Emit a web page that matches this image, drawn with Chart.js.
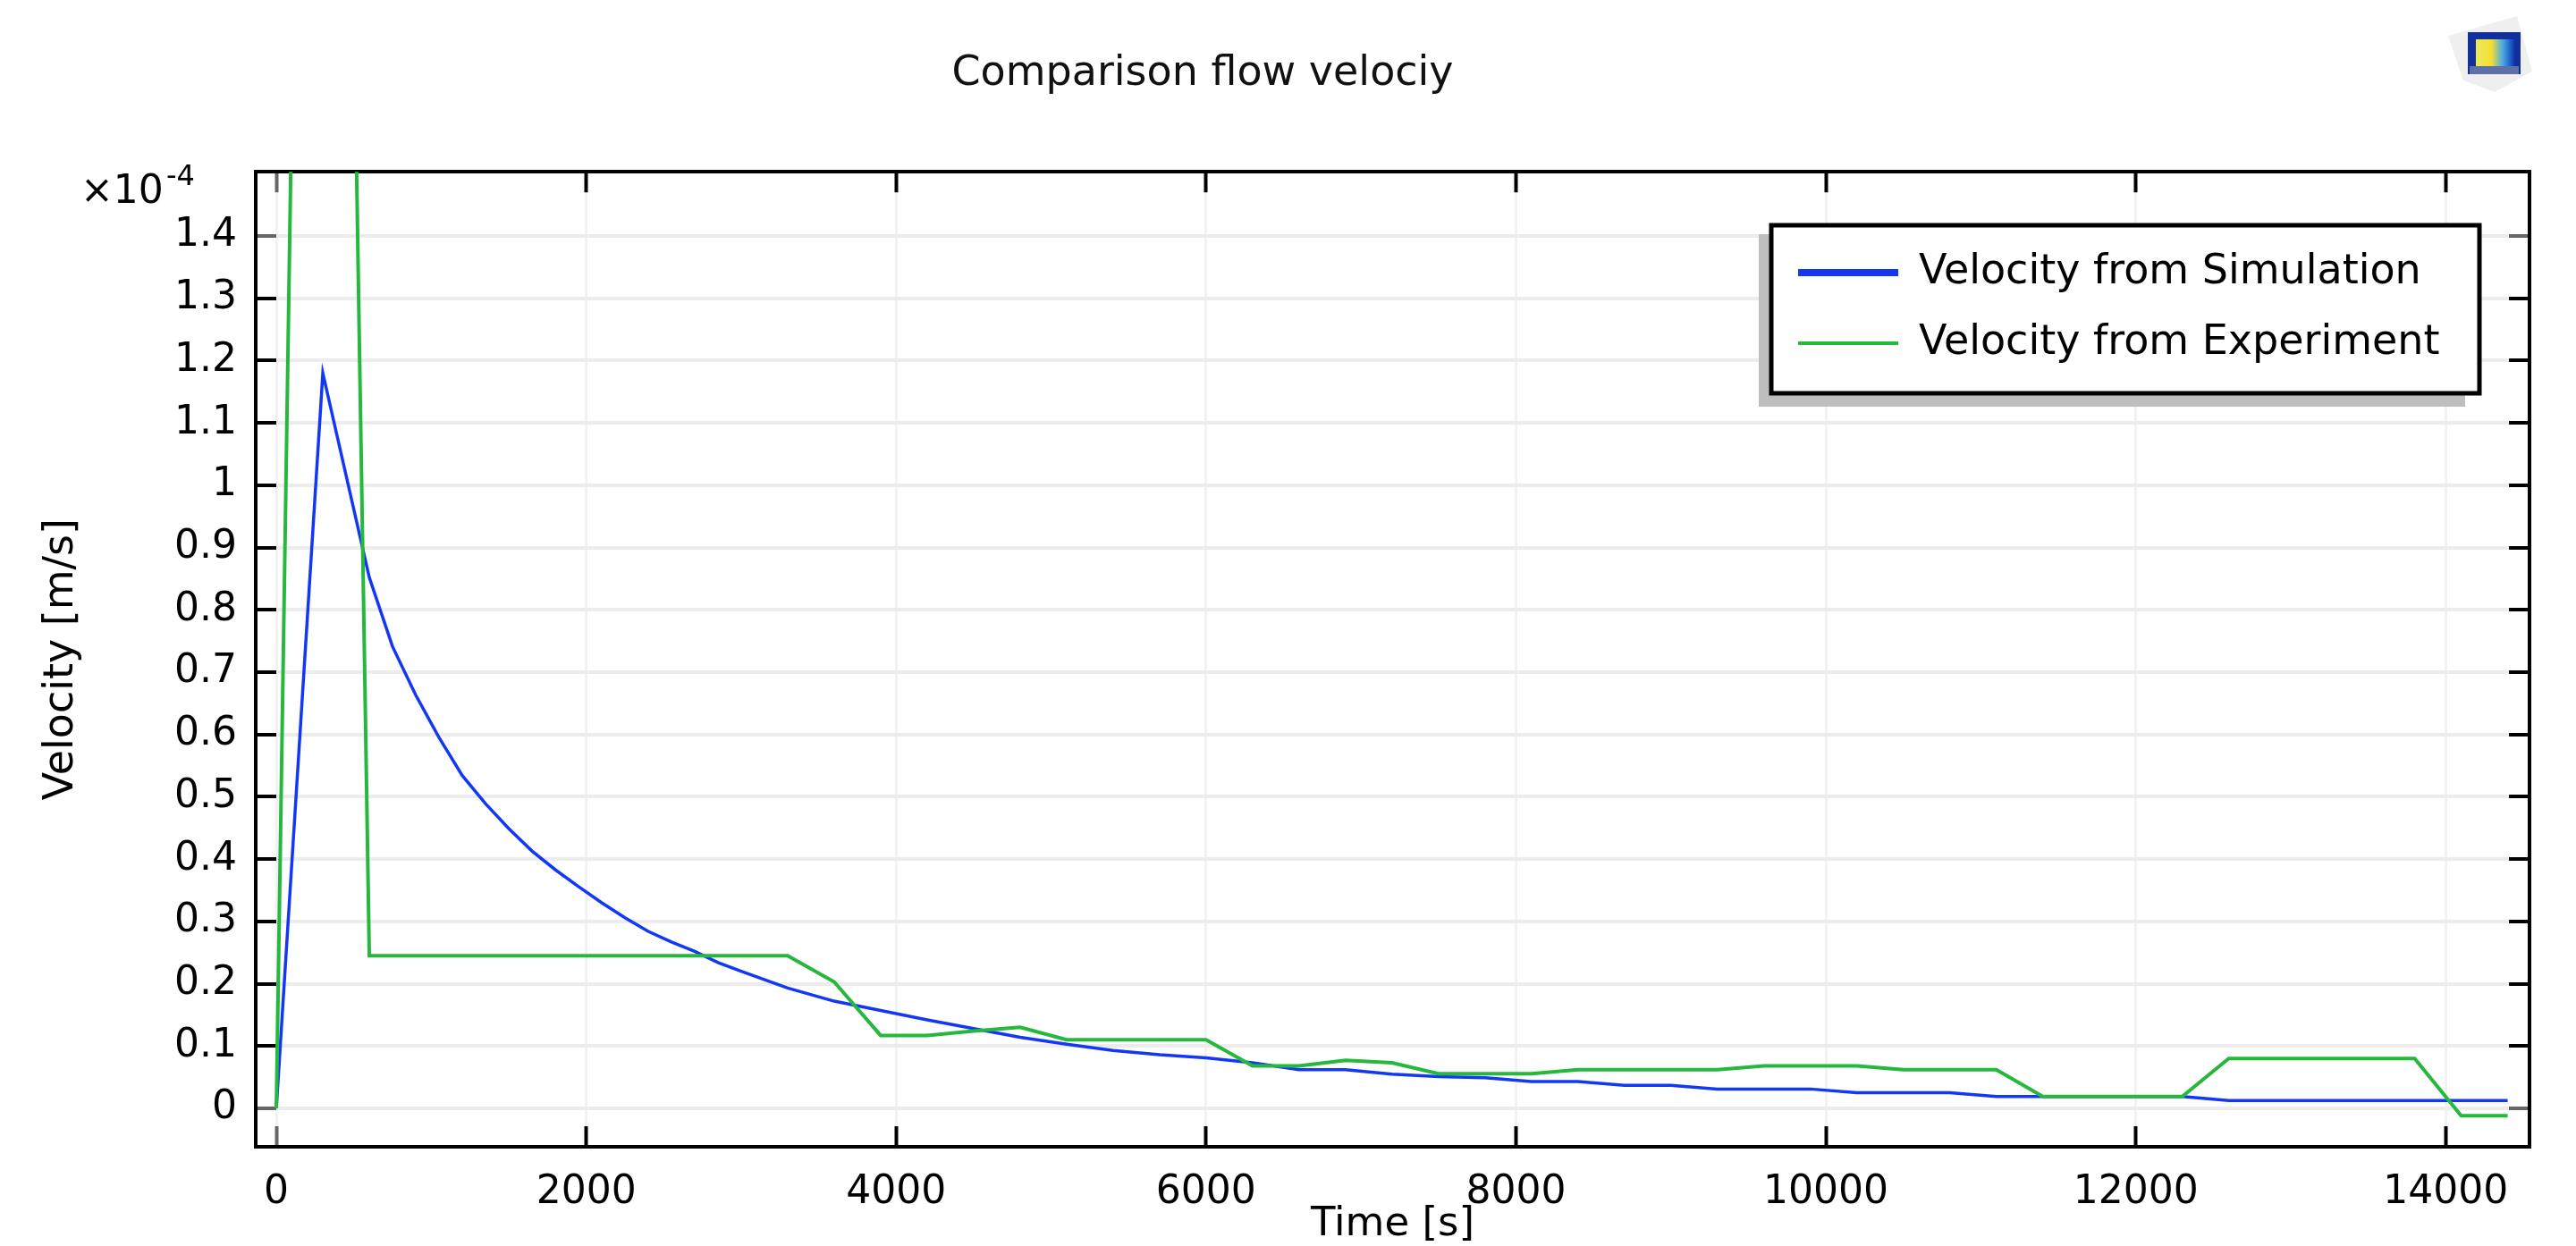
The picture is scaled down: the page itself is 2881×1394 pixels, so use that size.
<!DOCTYPE html>
<html>
<head>
<meta charset="utf-8">
<title>Comparison flow velociy</title>
<script src="https://cdn.jsdelivr.net/npm/chart.js@4"></script>
<style>
    html, body { margin: 0; background: #fff; }
    canvas { display: block; }
</style>
</head>
<body>
<canvas id="velocityChart" width="2881" height="1394"></canvas>
<script>
// velocities are in units of 1e-4 m/s, same as the axis
const simTime = [0, 300, 600, 750, 900, 1050, 1200, 1350, 1500, 1650, 1800, 1950, 2100, 2250, 2400, 2550, 2700, 2850, 3000,
    3300, 3600, 3900, 4200, 4500, 4800, 5100, 5400, 5700, 6000, 6300, 6600, 6900, 7200, 7500, 7800, 8100, 8400, 8700, 9000, 9300, 9600, 9900,
    10200, 10500, 10800, 11100, 11400, 11700, 12000, 12300, 12600, 12900, 13200, 13500, 13800, 14100, 14400];
const simVelocity = [0, 1.18, 0.852, 0.741, 0.663, 0.595, 0.534, 0.489, 0.449, 0.413, 0.383, 0.356, 0.33, 0.306, 0.284, 0.267, 0.252, 0.234, 0.22,
    0.193, 0.172, 0.157, 0.142, 0.128, 0.114, 0.103, 0.093, 0.086, 0.081, 0.073, 0.062, 0.062, 0.055, 0.051, 0.049, 0.043, 0.043, 0.037, 0.037, 0.031, 0.031, 0.031,
    0.025, 0.025, 0.025, 0.019, 0.019, 0.019, 0.019, 0.019, 0.0124, 0.0124, 0.0124, 0.0124, 0.0124, 0.0124, 0.0124];

const expTime = [0, 300, 600, 3300, 3600, 3900, 4200, 4500, 4800, 5100, 6000, 6300, 6600, 6900, 7200, 7500, 8100, 8400,
    9300, 9600, 10200, 10500, 11100, 11400, 12300, 12600, 13800, 14100, 14400];
const expVelocity = [0, 4.85, 0.245, 0.245, 0.203, 0.117, 0.117, 0.124, 0.13, 0.11, 0.11, 0.068, 0.068, 0.077, 0.073, 0.0555, 0.0555, 0.062,
    0.062, 0.068, 0.068, 0.062, 0.062, 0.019, 0.019, 0.08, 0.08, -0.012, -0.012];

const xTicks = [0, 2000, 4000, 6000, 8000, 10000, 12000, 14000];
const yTicks = [0, 0.1, 0.2, 0.3, 0.4, 0.5, 0.6, 0.7, 0.8, 0.9, 1, 1.1, 1.2, 1.3, 1.4];

const xMin = -133, xMax = 14541;
const yMin = -0.0617, yMax = 1.503;

const BLUE = "#1238f5";
const GREEN = "#26b83c";
const FONT = "'DejaVu Sans'";

const toPoints = (xs, ys) => xs.map((x, i) => ({ x: x, y: ys[i] }));

// axis line with inward ticks, the top and right copies have no labels
function axisBase(ticksList, gridColor, gridWidth, endValues) {
    return {
        type: "linear",
        afterBuildTicks: scale => { scale.ticks = ticksList.map(v => ({ value: v })); },
        border: { color: "#000", width: 4 },
        grid: {
            color: gridColor,
            lineWidth: gridWidth,
            tickLength: -23,
            tickWidth: 4,
            // the first and last ticks look washed out in the original
            tickColor: ctx => endValues.includes(ctx.tick && ctx.tick.value) ? "#666" : "#000"
        }
    };
}

function withFit(base, extra, fit) {
    return Object.assign(base, extra, { afterFit: fit });
}

// frame behind the legend, gets drawn together with it
function drawLegendFrame(ctx) {
    ctx.save();
    ctx.fillStyle = "#bebebe";
    ctx.fillRect(1967, 262, 790, 193);
    ctx.fillStyle = "#fff";
    ctx.fillRect(1981, 252, 792, 188);
    ctx.strokeStyle = "#000";
    ctx.lineWidth = 5;
    ctx.strokeRect(1981, 252, 792, 188);
    ctx.restore();
}

function drawLogo(ctx) {
    ctx.save();
    ctx.fillStyle = "#efefef";
    ctx.beginPath();
    ctx.moveTo(2738, 40);
    ctx.lineTo(2815, 18);
    ctx.lineTo(2832, 80);
    ctx.lineTo(2790, 103);
    ctx.lineTo(2755, 90);
    ctx.closePath();
    ctx.fill();
    ctx.fillStyle = "#12309a";
    ctx.fillRect(2760, 36, 59, 47);
    ctx.fillStyle = "#5f6fa8";
    ctx.fillRect(2762, 74, 55, 9);
    const g = ctx.createLinearGradient(2769, 0, 2812, 0);
    g.addColorStop(0, "#e8e860");
    g.addColorStop(0.4, "#f5e030");
    g.addColorStop(0.7, "#4aa8e8");
    g.addColorStop(1, "#0a3ab0");
    ctx.fillStyle = g;
    ctx.fillRect(2769, 44, 43, 30);
    ctx.restore();
}

const layoutFix = {
    id: "layoutFix",
    afterLayout(chart) {
        // the title is not centred on the canvas
        chart.titleBlock.left = 0;
        chart.titleBlock.right = 2690;

        const lg = chart.legend;
        lg.left = 1978;
        lg.right = 2773;
        lg.top = 249;
        lg.bottom = 700;
        if (!lg.framed) {
            const draw = lg.draw;
            lg.draw = function () {
                drawLegendFrame(chart.ctx);
                draw.call(lg);
            };
            lg.framed = true;
        }
    },
    afterDraw(chart) {
        const ctx = chart.ctx;
        ctx.save();
        ctx.fillStyle = "#000";
        ctx.textBaseline = "alphabetic";
        ctx.textAlign = "left";
        ctx.font = "44px " + FONT;
        ctx.fillText("×10", 90, 227);
        ctx.font = "32px " + FONT;
        ctx.fillText("-4", 186, 207);
        ctx.restore();
        drawLogo(ctx);
    }
};

new Chart(document.getElementById("velocityChart").getContext("2d"), {
    type: "line",
    data: {
        datasets: [
            {
                label: "Velocity from Simulation",
                data: toPoints(simTime, simVelocity),
                borderColor: BLUE,
                backgroundColor: BLUE,
                borderWidth: 3.5,
                pointRadius: 0,
                tension: 0,
                order: 2
            },
            {
                label: "Velocity from Experiment",
                data: toPoints(expTime, expVelocity),
                borderColor: GREEN,
                backgroundColor: GREEN,
                borderWidth: 4,
                pointRadius: 0,
                tension: 0,
                order: 1
            }
        ]
    },
    plugins: [layoutFix],
    options: {
        responsive: false,
        animation: false,
        layout: { padding: { left: 0, right: 52, top: 0, bottom: 0 } },
        scales: {
            x: withFit(axisBase(xTicks, "#f2f2f2", 3, [0]), {
                position: "bottom",
                min: xMin,
                max: xMax,
                ticks: {
                    color: "#000",
                    font: { family: FONT, size: 44 },
                    padding: 48,
                    maxRotation: 0,
                    autoSkip: false,
                    callback: v => String(v)
                },
                title: {
                    display: true,
                    text: "Time [s]",
                    color: "#000",
                    font: { family: FONT, size: 45 },
                    padding: { top: 0, bottom: -3 }
                }
            }, s => { s.height = 111; }),
            y: withFit(axisBase(yTicks, "#ececec", 4, [0, 1.4]), {
                position: "left",
                min: yMin,
                max: yMax,
                ticks: {
                    color: "#000",
                    font: { family: FONT, size: 44 },
                    padding: 44,
                    autoSkip: false,
                    callback: v => String(v)
                },
                title: {
                    display: true,
                    text: "Velocity [m/s]",
                    color: "#000",
                    font: { family: FONT, size: 46 },
                    padding: { top: 41, bottom: 0 }
                }
            }, s => { s.width = 286; }),
            xTop: withFit(axisBase(xTicks, "#f2f2f2", 3, [0]), {
                position: "top",
                min: xMin,
                max: xMax,
                grid: Object.assign(axisBase(xTicks, "#f2f2f2", 3, [0]).grid, { drawOnChartArea: false }),
                ticks: { display: false }
            }, s => { s.height = 0; }),
            yRight: withFit(axisBase(yTicks, "#ececec", 4, [0, 1.4]), {
                position: "right",
                min: yMin,
                max: yMax,
                grid: Object.assign(axisBase(yTicks, "#ececec", 4, [0, 1.4]).grid, { drawOnChartArea: false }),
                ticks: { display: false }
            }, s => { s.width = 0; })
        },
        plugins: {
            tooltip: { enabled: false },
            title: {
                display: true,
                text: "Comparison flow velociy",
                color: "#111",
                font: { family: FONT, size: 46, weight: "normal" },
                padding: { top: 55, bottom: 82 }
            },
            legend: {
                position: "chartArea",
                align: "start",
                labels: {
                    color: "#000",
                    font: { family: FONT, size: 46 },
                    usePointStyle: true,
                    pointStyle: "line",
                    pointStyleWidth: 112,
                    boxHeight: 44,
                    padding: 33,
                    generateLabels(chart) {
                        return chart.data.datasets.map((ds, i) => ({
                            text: ds.label,
                            fontColor: "#000",
                            strokeStyle: ds.borderColor,
                            fillStyle: ds.borderColor,
                            lineWidth: i === 0 ? 8 : 4,
                            pointStyle: "line",
                            datasetIndex: i
                        }));
                    }
                }
            }
        }
    }
});
</script>
</body>
</html>
